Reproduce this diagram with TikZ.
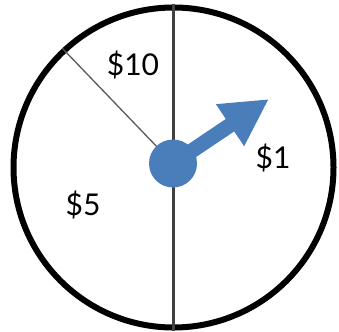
\documentclass[tikz,border=0pt]{standalone}
\usepackage{fontspec}
\setmainfont{Lato}
\usepackage{tikz}
\usetikzlibrary{arrows.meta}
\definecolor{spin}{HTML}{4A7EBB}
\tikzset{
  rim/.style   = {circle, draw=black, line width=6pt, inner sep=0pt},
  split/.style = {draw=black!75, line width=2.5pt},
  thin/.style  = {draw=black!65, line width=1.3pt},
  hubdot/.style = {circle, fill=spin, inner sep=0pt, minimum size=48pt},
  lbl/.style   = {font=\fontsize{30}{30}\selectfont, inner sep=0pt},
  ptr/.style   = {draw=spin, line width=15pt,
                  -{Triangle[length=47pt, width=47pt]}},
}
\begin{document}
\begin{tikzpicture}[x=1pt, y=-1pt]
  \useasboundingbox (0,0) rectangle (339,331);
  \node[rim, minimum size=320pt] (wheel) at (173.5,167.5) {};
  \coordinate (c) at (173,163.5);
  \coordinate (tip) at (269,99);
  % dividers
  \draw[split] (wheel.north) -- (wheel.south);
  \draw[thin] (wheel.133) -- (c);
  % pointer
  \node[hubdot] (hub) at (c) {};
  \draw[ptr] (hub.center) -- (tip);
  % prizes
  \node[lbl] (l10) at (133,65)  {\$10};
  \node[lbl] (l1)  at (273,158) {\$1};
  \node[lbl] (l5)  at (83,205)  {\$5};
\end{tikzpicture}
\end{document}
